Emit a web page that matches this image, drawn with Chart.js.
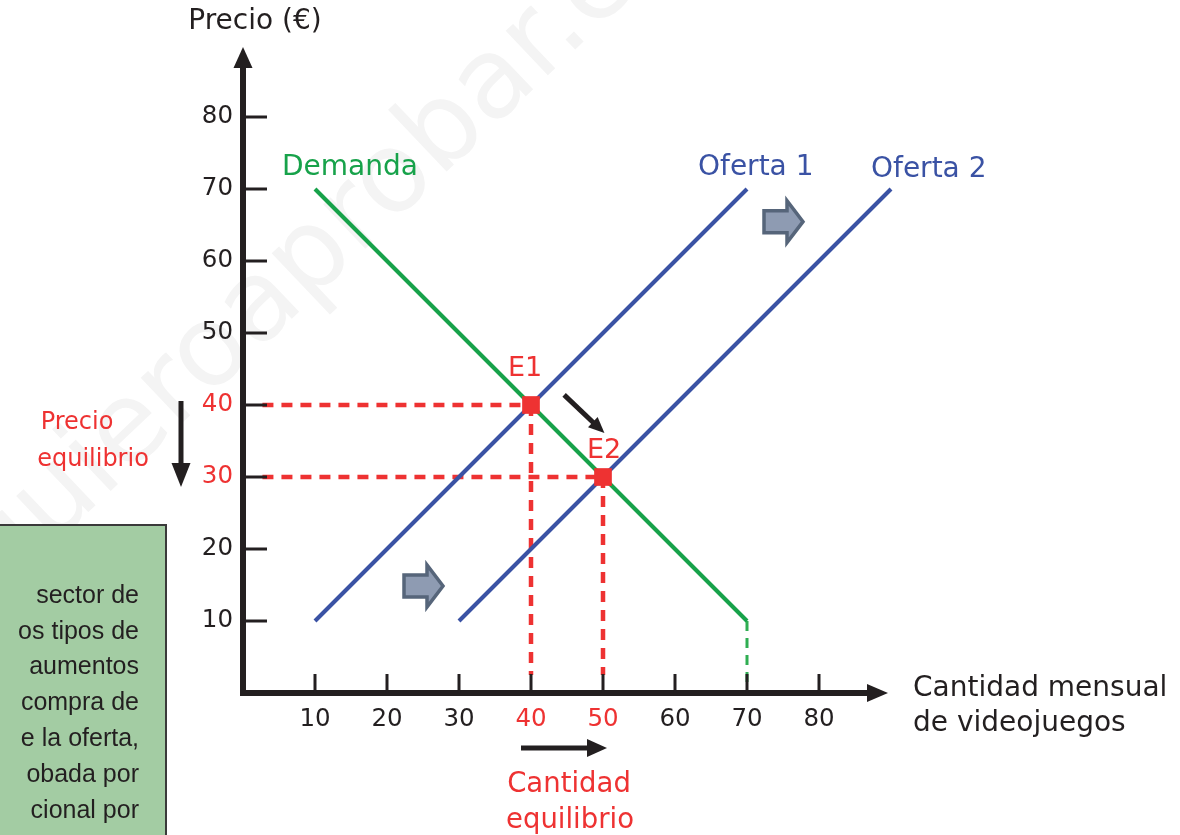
<!DOCTYPE html>
<html><head><meta charset="utf-8">
<script src="https://cdn.jsdelivr.net/npm/chart.js@4.4.1/dist/chart.umd.min.js"></script>
<style>html,body{margin:0;padding:0;background:#fff;overflow:hidden}#wrap{width:1180px;height:835px;position:relative}</style>
</head><body><div id="wrap"><canvas id="c" width="1180" height="835"></canvas></div>
<script>
// ---- data ----
const xTicks = [10, 20, 30, 40, 50, 60, 70, 80];
const yTicks = [10, 20, 30, 40, 50, 60, 70, 80];
const redXTicks = [40, 50];
const redYTicks = [40, 30];
const demandaQ = [10, 70], demandaP = [70, 10];
const oferta1Q = [10, 70], oferta1P = [10, 70];
const oferta2Q = [30, 90], oferta2P = [10, 70];
const equilibrioQ = [40, 50], equilibrioP = [40, 30];
const equilibrioLabels = ['E1', 'E2'];
const demandaFinQ = [70, 70], demandaFinP = [10, 1];
const shiftArrowsQ = [75, 25], shiftArrowsP = [65.6, 15];
const moveArrowQ = [44.6, 50.2], moveArrowP = [41.4, 36.1];
const textoCaja = ['sector de', 'os tipos de', 'aumentos', 'compra de', 'e la oferta,', 'obada por', 'cional por'];

const GREEN = '#17a24a', BLUE = '#3a52a4', RED = '#ee3232', BLACK = '#231f20';
const FONT = '"DejaVu Sans", Verdana, sans-serif';
const eqLabelOffsets = [[-6, -36], [1, -26]];

function pts(q, p) { return q.map((v, i) => ({ x: v, y: p[i] })); }

const datasets = [
  { label: 'Equilibrio', data: pts(equilibrioQ, equilibrioP), showLine: false, pointStyle: 'rect', pointRadius: 12.5, backgroundColor: RED, borderColor: RED, borderWidth: 0 },
  { label: 'Demanda', data: pts(demandaQ, demandaP), showLine: true, borderColor: GREEN, borderWidth: 4, pointRadius: 0 },
  { label: 'Oferta 1', data: pts(oferta1Q, oferta1P), showLine: true, borderColor: BLUE, borderWidth: 4, pointRadius: 0 },
  { label: 'Oferta 2', data: pts(oferta2Q, oferta2P), showLine: true, borderColor: BLUE, borderWidth: 4, pointRadius: 0 },
  { label: 'dem fin', data: pts(demandaFinQ, demandaFinP), showLine: true, borderColor: '#2fae52', borderWidth: 3, borderDash: [10, 7], pointRadius: 0 },
];
equilibrioQ.forEach((q, i) => {
  datasets.push({ label: 'h' + i, data: [{ x: 2.7, y: equilibrioP[i] }, { x: q, y: equilibrioP[i] }], showLine: true, borderColor: RED, borderWidth: 4.5, borderDash: [11, 8], pointRadius: 0 });
  datasets.push({ label: 'v' + i, data: [{ x: q, y: equilibrioP[i] }, { x: q, y: 2.5 }], showLine: true, borderColor: RED, borderWidth: 4.5, borderDash: [11, 8], pointRadius: 0 });
});
datasets.forEach(d => { d.clip = false; d.borderCapStyle = 'butt'; });

function arrowHead(ctx, x1, y1, x2, y2, len, half, color) {
  const a = Math.atan2(y2 - y1, x2 - x1);
  ctx.save(); ctx.translate(x2, y2); ctx.rotate(a);
  ctx.fillStyle = color; ctx.beginPath();
  ctx.moveTo(0, 0); ctx.lineTo(-len, -half); ctx.lineTo(-len, half); ctx.closePath(); ctx.fill();
  ctx.restore();
}
function lineArrow(ctx, x1, y1, x2, y2, w, len, half, color) {
  const a = Math.atan2(y2 - y1, x2 - x1);
  ctx.save(); ctx.strokeStyle = color; ctx.lineWidth = w; ctx.lineCap = 'butt';
  ctx.beginPath(); ctx.moveTo(x1, y1); ctx.lineTo(x2 - Math.cos(a) * (len - 2), y2 - Math.sin(a) * (len - 2)); ctx.stroke();
  ctx.restore();
  arrowHead(ctx, x1, y1, x2, y2, len, half, color);
}
function text(ctx, s, x, y, font, color, align) {
  ctx.font = font; ctx.fillStyle = color; ctx.textAlign = align || 'center'; ctx.textBaseline = 'middle';
  ctx.fillText(s, x, y);
}

const deco = {
  id: 'deco',
  beforeDraw(chart) {
    const ctx = chart.ctx;
    ctx.save();
    ctx.fillStyle = '#fff'; ctx.fillRect(0, 0, chart.width, chart.height);
    // watermark
    ctx.save();
    ctx.translate(-20, 575); ctx.rotate(-0.76);
    ctx.font = '112px ' + FONT; ctx.fillStyle = '#f4f4f4'; ctx.textAlign = 'left'; ctx.textBaseline = 'middle';
    ctx.fillText('quieroaprobar.es', 0, 0);
    ctx.restore();
    // green text box
    ctx.fillStyle = '#a3cca3'; ctx.strokeStyle = '#3a3a3a'; ctx.lineWidth = 2;
    ctx.fillRect(-5, 525, 171, 320); ctx.strokeRect(-5, 525, 171, 320);
    ctx.font = '25px "Liberation Sans", Arial, sans-serif'; ctx.fillStyle = BLACK; ctx.textAlign = 'right'; ctx.textBaseline = 'middle';
    textoCaja.forEach((t, i) => ctx.fillText(t, 139, 596 + i * 35.8));
    ctx.restore();
  },
  afterDatasetsDraw(chart) {
    const ctx = chart.ctx, xs = chart.scales.x, ys = chart.scales.y;
    const x0 = xs.getPixelForValue(0), y0 = ys.getPixelForValue(0);
    ctx.save();
    // axes
    ctx.strokeStyle = BLACK; ctx.lineWidth = 6; ctx.lineCap = 'butt';
    ctx.beginPath(); ctx.moveTo(x0, y0 + 3); ctx.lineTo(x0, 66); ctx.stroke();
    arrowHead(ctx, x0, 100, x0, 47, 21, 9.5, BLACK);
    ctx.beginPath(); ctx.moveTo(x0 - 3, y0); ctx.lineTo(870, y0); ctx.stroke();
    arrowHead(ctx, 800, y0, 888, y0, 21, 9, BLACK);
    // ticks
    ctx.lineWidth = 3;
    yTicks.forEach(v => {
      const y = ys.getPixelForValue(v);
      ctx.beginPath(); ctx.moveTo(x0, y); ctx.lineTo(x0 + 24, y); ctx.stroke();
      text(ctx, String(v), x0 - 10, y, '24.5px ' + FONT, redYTicks.includes(v) ? RED : BLACK, 'right');
    });
    xTicks.forEach(v => {
      const x = xs.getPixelForValue(v);
      ctx.beginPath(); ctx.moveTo(x, y0); ctx.lineTo(x, y0 - 19); ctx.stroke();
      text(ctx, String(v), x, y0 + 27, '24.5px ' + FONT, redXTicks.includes(v) ? RED : BLACK, 'center');
    });
    // axis titles
    text(ctx, 'Precio (€)', x0 + 12, 22, '28px ' + FONT, BLACK, 'center');
    text(ctx, 'Cantidad mensual', 913, 689, '28px ' + FONT, BLACK, 'left');
    text(ctx, 'de videojuegos', 913, 724, '28px ' + FONT, BLACK, 'left');
    // series labels
    text(ctx, 'Demanda', xs.getPixelForValue(demandaQ[0]) - 33, ys.getPixelForValue(demandaP[0]) - 21, '28px ' + FONT, GREEN, 'left');
    text(ctx, 'Oferta 1', xs.getPixelForValue(oferta1Q[1]) - 49, ys.getPixelForValue(oferta1P[1]) - 21, '28px ' + FONT, BLUE, 'left');
    text(ctx, 'Oferta 2', xs.getPixelForValue(oferta2Q[1]) - 20, ys.getPixelForValue(oferta2P[1]) - 19, '28px ' + FONT, BLUE, 'left');
    // equilibrium labels
    equilibrioQ.forEach((q, i) => {
      text(ctx, equilibrioLabels[i], xs.getPixelForValue(q) + eqLabelOffsets[i][0], ys.getPixelForValue(equilibrioP[i]) + eqLabelOffsets[i][1], '27px ' + FONT, RED, 'center');
    });
    // axis equilibrium annotations
    text(ctx, 'Precio', 77, 423, '24px ' + FONT, RED, 'center');
    text(ctx, 'equilibrio', 93, 460, '24px ' + FONT, RED, 'center');
    text(ctx, 'Cantidad', 569, 785, '27.5px ' + FONT, RED, 'center');
    text(ctx, 'equilibrio', 570, 821, '27.5px ' + FONT, RED, 'center');
    // black arrows
    lineArrow(ctx, 181, 401, 181, 487, 5, 24, 9.5, BLACK);
    lineArrow(ctx, 521, 748, 607, 748, 5, 20, 9, BLACK);
    lineArrow(ctx, xs.getPixelForValue(moveArrowQ[0]), ys.getPixelForValue(moveArrowP[0]),
      xs.getPixelForValue(moveArrowQ[1]), ys.getPixelForValue(moveArrowP[1]), 5, 16, 7, BLACK);
    // shift block arrows
    shiftArrowsQ.forEach((q, i) => {
      const cx = xs.getPixelForValue(q), cy = ys.getPixelForValue(shiftArrowsP[i]);
      ctx.beginPath();
      ctx.moveTo(cx - 19, cy - 10); ctx.lineTo(cx + 4, cy - 10); ctx.lineTo(cx + 4, cy - 20);
      ctx.lineTo(cx + 20, cy + 1); ctx.lineTo(cx + 4, cy + 22); ctx.lineTo(cx + 4, cy + 12);
      ctx.lineTo(cx - 19, cy + 12); ctx.closePath();
      ctx.fillStyle = '#8e9bb2'; ctx.fill();
      ctx.lineWidth = 3.5; ctx.strokeStyle = '#56657a'; ctx.lineJoin = 'miter'; ctx.stroke();
    });
    ctx.restore();
  }
};

new Chart(document.getElementById('c'), {
  type: 'scatter',
  data: { datasets },
  options: {
    responsive: false, animation: false, devicePixelRatio: 1,
    layout: { padding: { left: 243, right: 289, top: 45, bottom: 142 } },
    plugins: { legend: { display: false }, tooltip: { enabled: false } },
    scales: {
      x: { type: 'linear', min: 0, max: 90, display: false },
      y: { type: 'linear', min: 0, max: 90, display: false }
    }
  },
  plugins: [deco]
});
</script>
</body></html>
